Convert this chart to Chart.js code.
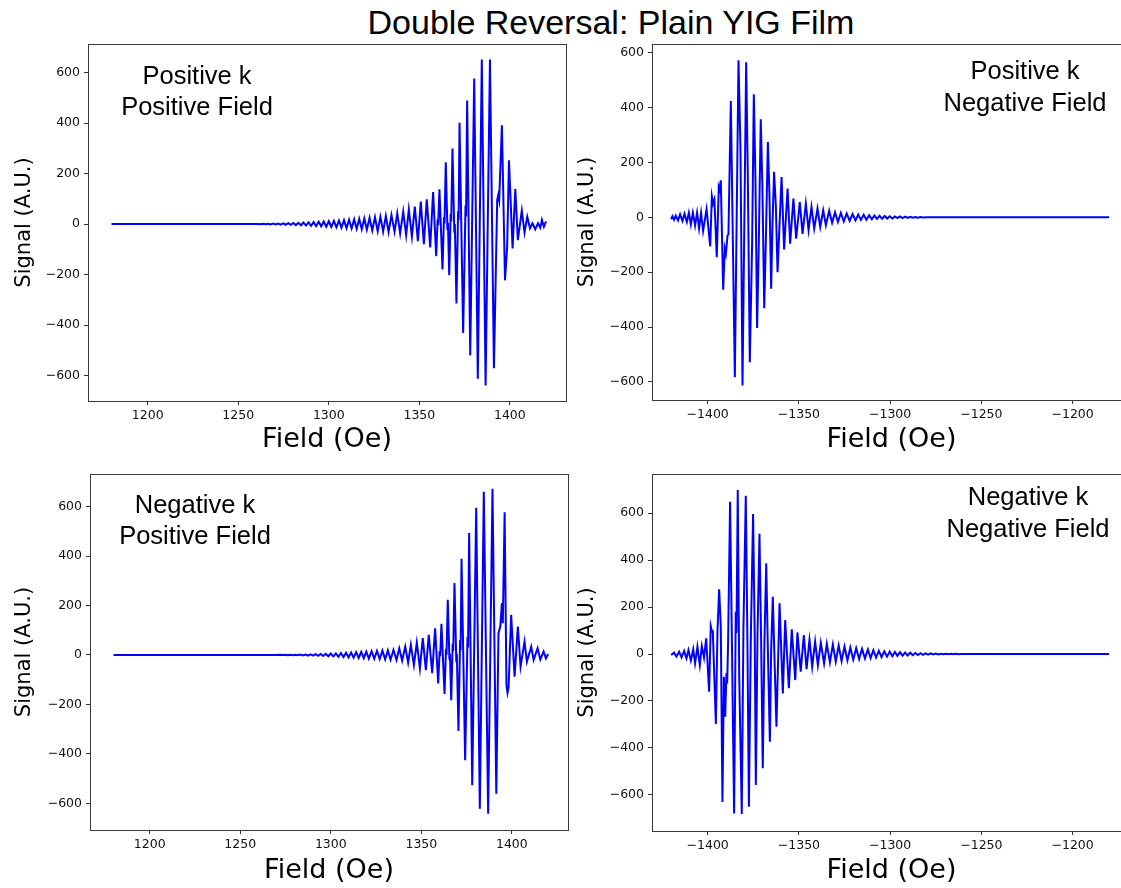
<!DOCTYPE html>
<html>
<head>
<meta charset="utf-8">
<script src="https://cdn.jsdelivr.net/npm/chart.js@4.4.0/dist/chart.umd.min.js"></script>
<style>
  html, body { margin: 0; padding: 0; background: #fff; overflow: hidden; }
  body { width: 1121px; height: 888px; position: relative; }
  #titulo { position: absolute; left: 0; width: 1222px; top: 2px; text-align: center;
            font-family: 'Liberation Sans', Arial, sans-serif; font-size: 34px; line-height: 40px; color: #000; }
  canvas { position: absolute; }
</style>
</head>
<body>
<div id="titulo">Double Reversal: Plain YIG Film</div>
<canvas id="panelTL" width="600" height="428" style="left:0px;top:32px"></canvas>
<canvas id="panelTR" width="600" height="428" style="left:566px;top:32px"></canvas>
<canvas id="panelBL" width="600" height="426" style="left:0px;top:462px"></canvas>
<canvas id="panelBR" width="600" height="426" style="left:566px;top:462px"></canvas>
<script>
// Ticks
const yTicks = [-600, -400, -200, 0, 200, 400, 600];
const xTicksPos = [1200, 1250, 1300, 1350, 1400];
const xTicksNeg = [-1400, -1350, -1300, -1250, -1200];

// Positive k, Positive Field
const tlField = [1180, 1258, 1260.8, 1262.2, 1263.6, 1265.0, 1266.4, 1267.8, 1269.2, 1270.6, 1272.0, 1273.4, 1274.8,
  1276.2, 1277.6, 1279.0, 1280.4, 1281.8, 1283.2, 1284.6, 1286.0, 1287.4, 1288.8, 1290.2, 1291.6, 1293.0, 1294.4,
  1295.8, 1297.2, 1298.6, 1300.0, 1301.4, 1302.8, 1304.2, 1305.6, 1307.0, 1308.4, 1309.8, 1311.2, 1312.6, 1314.0,
  1315.4, 1316.8, 1318.2, 1319.6, 1321.0, 1322.5, 1324.0, 1325.5, 1327.0, 1328.5, 1330.0, 1331.5, 1333.0,
  1334.6, 1336.3, 1337.8, 1339.4, 1341.1, 1342.7, 1344.2, 1345.9, 1347.5, 1349.2, 1350.8, 1352.5, 1354.1, 1356.0,
  1357.6, 1359.3, 1360.1, 1360.4, 1361.1, 1362.8, 1363.6, 1363.9, 1364.6, 1365.5, 1365.8, 1366.5, 1367.3, 1367.6,
  1368.3, 1369.3, 1369.6, 1370.5, 1371.4, 1371.7, 1372.2, 1374.2, 1375.5, 1375.8, 1376.4, 1378.1, 1380.3, 1382.3,
  1384.5, 1386.6, 1389.0, 1391.2, 1393.0, 1393.6, 1394.1, 1395.6, 1397.3, 1398.5, 1399.5, 1401.5, 1403.0, 1404.4,
  1406.6, 1408.1, 1409.6, 1411.1, 1412.5, 1414.0, 1415.5, 1416.8, 1417.7, 1418.8, 1420.0];
const tlSignal = [0, 0, 0.5, -0.7, 0.9, -1, 1.2, -1.4, 1.6, -1.8, 2, -2.3, 2.6,
  -2.9, 3.2, -3.5, 3.9, -4.3, 4.7, -5.1, 5.6, -6, 6.5, -7, 7.5, -8, 8.6,
  -9.2, 9.8, -10.4, 11, -11.7, 12.4, -13, 13.7, -14.4, 15.2, -16, 16.8, -17.6, 18.4,
  -19.2, 20, -21, 22, -23, 24, -25.5, 27, -28, 29, -30, 32, -32,
  36, -30, 42, -37, 49, -44, 58, -50, 69, -68, 89, -80, 98, -93,
  127, -127, 18, -4, 138, -180, 28, 2, 245, -20, 5, -203, 40, 10,
  299, -30, 0, -315, 50, 15, 401, -432, 73, 30, 489, -521, 576, -613,
  652, -640, 652, -571, 95, 115, 95, 391, -223, -90, 252, -97, 139, -64,
  53, -34, 29, -17, 3, -21, 3, -15, 16, -11, 10];

// Positive k, Negative Field
const trField = [-1420, -1419.3, -1418.4, -1417.5, -1416.2, -1415.1, -1413.8, -1412.7, -1411.4, -1410.3, -1409.2,
  -1408.1, -1406.9, -1405.8, -1404.7, -1403.6, -1402.5, -1400.6, -1398.6, -1397.7, -1397.0, -1396.3, -1395.0,
  -1393.9, -1393.4, -1392.8, -1391.5, -1390.6, -1390.0, -1389.1, -1388.6, -1387.3, -1385.1, -1383.1, -1382.0,
  -1380.9, -1378.9, -1378.0, -1376.9, -1375.6, -1374.7, -1373.8, -1372.9, -1372.0, -1370.9, -1370.0, -1369.0,
  -1368.1, -1367.0, -1366.1, -1365.2, -1364.5, -1363.6, -1362.6, -1361.7, -1359.5, -1358.1, -1356.2, -1354.8,
  -1353.0, -1351.5, -1349.5, -1348.0, -1346.2, -1344.7, -1343.1, -1341.6, -1339.8, -1338.3, -1336.7, -1335.2,
  -1333.4, -1331.8, -1330.2, -1328.6, -1327.0, -1325.4, -1323.8, -1322.2, -1320.6, -1319.0, -1317.5, -1316.0,
  -1314.5, -1313.0, -1311.5, -1310.0, -1308.6, -1307.2, -1305.8, -1304.4, -1303.0, -1301.6, -1300.2, -1298.8,
  -1297.4, -1296.0, -1294.6, -1293.2, -1291.8, -1290.4, -1289.0, -1287.6, -1286.2, -1284.8, -1283.4, -1282.0,
  -1280.0, -1180];
const trSignal = [-7, 4, -9, 6, -11, 11, -13, 13, -17, 17, -26,
  17, -30, 17, -41, 16, -50, 30, -106, 77, 50, 65, -145,
  111, 100, 135, -264, -114, -133, -66, -62, 424, -583, 573, 245,
  -613, 565, 159, -528, -84, 449, 135, -403, -108, 358, 111, -331,
  -84, 275, 74, -260, -35, 166, 38, -200, 147, -117, 105, -96,
  68, -78, 56, -60, 50, -46, 38, -41, 32, -35, 26, -29,
  24, -20, 18, -17, 16, -15, 14, -13, 12, -11, 10, -9.5,
  9, -8.5, 8, -7, 6.5, -6, 5.5, -5, 5, -4.5, 4, -4,
  3.5, -3, 3, -2.5, 2.5, -2, 2, -1.5, 1.5, -1, 1, -0.5,
  0, 0];

// Negative k, Positive Field
const blField = [1180, 1270, 1272.0, 1273.4, 1274.8, 1276.2, 1277.6, 1279.0, 1280.4, 1281.8, 1283.2, 1284.6,
  1286.0, 1287.4, 1288.8, 1290.2, 1291.6, 1293.0, 1294.4, 1295.8, 1297.2, 1298.6, 1300.0, 1301.4, 1302.8,
  1304.2, 1305.6, 1307.0, 1308.4, 1309.8, 1311.2, 1312.6, 1314.0, 1315.4, 1316.8, 1318.2, 1319.6, 1321.0,
  1322.5, 1324.0, 1325.5, 1327.0, 1328.5, 1330.0, 1331.5, 1333.0,
  1334.6, 1336.3, 1337.8, 1339.4, 1341.1, 1342.7, 1344.2, 1345.9, 1347.5, 1349.2, 1350.8, 1352.5, 1354.1,
  1356.0, 1357.6, 1359.3, 1360.1, 1360.4, 1361.1, 1362.8, 1363.6, 1363.9, 1364.6, 1365.5, 1365.8, 1366.5,
  1367.3, 1367.6, 1368.3, 1369.3, 1369.6, 1370.5, 1371.4, 1371.7, 1372.2, 1374.2, 1375.5, 1375.8, 1376.4,
  1378.1, 1380.3, 1382.3, 1384.5, 1386.9, 1389.3, 1391.4, 1392.6, 1393.6, 1394.5, 1395.0, 1396.0, 1397.0,
  1397.6, 1398.2, 1399.6, 1401.5, 1403.3, 1404.8, 1407.0, 1408.3, 1410.7, 1412.0, 1414.2, 1415.7, 1417.5,
  1418.8, 1420.0];
const blSignal = [0, 0, 0.5, -0.6, 0.7, -0.8, 0.9, -1, 1.2, -1.4, 1.6, -1.8,
  2, -2.3, 2.6, -2.9, 3.2, -3.6, 4, -4.4, 4.8, -5.2, 5.7, -6.2, 6.7,
  -7.2, 7.8, -8.4, 9, -9.6, 10.2, -10.8, 11.4, -12, 12.6, -13.2, 13.8, -14.4,
  15, -15.6, 16.2, -16.8, 17.4, -18, 18.6, -19.2,
  20, -20, 27, -23, 34, -31, 41, -41, 50, -54, 68, -61, 81,
  -74, 108, -115, 15, -5, 126, -158, 25, 0, 223, -15, 5, -183,
  45, 15, 291, -25, 5, -307, 60, 20, 389, -426, 74, 30, 493,
  -527, 595, -622, 660, -642, 672, -561, 88, 115, 210, 128, 577, -120,
  -153, -130, 162, -88, 115, -47, 54, -27, 34, -20, 27, -18, 14,
  -14, 4];

// Negative k, Negative Field
const brField = [-1420, -1418.4, -1417.1, -1415.6, -1414.3, -1412.9, -1411.6, -1410.5, -1409.2, -1407.9, -1406.9,
  -1405.6, -1404.3, -1403.2, -1402.0, -1400.8, -1399.2, -1398.3, -1397.6, -1397.2, -1395.5, -1394.6, -1393.7,
  -1392.8, -1391.9, -1391.1, -1390.4, -1389.7, -1389.3, -1388.8, -1387.7, -1385.5, -1384.6, -1384.2, -1383.5,
  -1382.7, -1381.3, -1380.4, -1379.1, -1378.2, -1377.4, -1376.3, -1375.1, -1374.2, -1373.6, -1372.7, -1371.6,
  -1370.7, -1369.8, -1368.9, -1367.9, -1367.0, -1365.9, -1365.2, -1364.3, -1363.4, -1362.3, -1360.6, -1358.8,
  -1357.5, -1355.5, -1353.9, -1352.0, -1350.8, -1349.0, -1347.3, -1345.8, -1344.2, -1342.7, -1341.1, -1339.6,
  -1338.0, -1336.2, -1334.7, -1333.0, -1331.4, -1329.8, -1328.2, -1326.6, -1325.0, -1323.4, -1321.8, -1320.2,
  -1318.6, -1317.0, -1315.4, -1313.8, -1312.2, -1310.7, -1309.2, -1307.7, -1306.2, -1304.7, -1303.2, -1301.7,
  -1300.2, -1298.8, -1297.4, -1296.0, -1294.6, -1293.2, -1291.8, -1290.4, -1289.0, -1287.6, -1286.2, -1284.8,
  -1283.4, -1282.0, -1280.6, -1279.2, -1277.8, -1276.4, -1275.0, -1273.6, -1272.2, -1270.8, -1269.4, -1268.0,
  -1266.6, -1265.2, -1263.8, -1262.4, -1261.0, -1259.6, -1258.0, -1180];
const brSignal = [-4, 6, -11, 10, -14, 13, -18, 17, -28, 20, -40,
  31, -47, 34, -15, 67, -161, 119, 95, 102, -298, 102, 276,
  117, -630, -97, -267, -82, -125, 45, 649, -679, 180, 90, 699,
  -97, -682, 109, 674, 45, -651, 88, 597, 74, -558, 74, 512,
  60, -487, 45, 387, 17, -374, 17, 244, -11, -310, 216, -168,
  145, -146, 105, -111, 92, -75, 81, -64, 60, -54, 53, -47,
  48, -40, 43, -36, 40, -33, 36, -30, 32, -27, 28, -24,
  25, -21, 22, -19, 19, -17, 16.5, -15, 14, -13, 12, -11,
  10.5, -9.5, 9, -8, 7.5, -7, 6.5, -6, 5.5, -5, 4.6, -4.2,
  3.8, -3.4, 3, -2.7, 2.4, -2.1, 1.9, -1.7, 1.5, -1.3, 1.1, -1,
  0.9, -0.8, 0.7, -0.6, 0.5, -0.4, 0, 0];

const fuenteTicks = { family: 'DejaVu Sans', size: 12.5 };
const signoMenos = v => String(v).replace('-', '\u2212');

// Texto dentro de cada panel
const notasPlugin = {
    id: 'notas',
    afterDraw(chart, args, opts) {
        const ctx = chart.ctx;
        ctx.save();
        ctx.font = '25.5px "Liberation Sans", Arial, sans-serif';
        ctx.fillStyle = '#000';
        ctx.textAlign = 'center';
        ctx.textBaseline = 'middle';
        opts.lineas.forEach((t, i) => ctx.fillText(t, opts.x, opts.y + i * opts.salto));
        ctx.restore();
    }
};

// Marco de los ejes
const marcoPlugin = {
    id: 'marco',
    afterDraw(chart) {
        const { ctx, chartArea: a } = chart;
        ctx.save();
        ctx.strokeStyle = '#3a3a3a';
        ctx.lineWidth = 1;
        ctx.strokeRect(Math.round(a.left) + 0.5, Math.round(a.top) + 0.5,
            Math.round(a.right - a.left), Math.round(a.bottom - a.top));
        ctx.restore();
    }
};

const crearPanel = (id, campo, senal, cfg) => {
    const ctx = document.getElementById(id);
    new Chart(ctx, {
        type: 'line',
        data: {
            datasets: [{
                data: campo.map((x, i) => ({ x: x, y: senal[i] })),
                borderColor: '#0000ff',
                borderWidth: 2,
                pointRadius: 0,
                tension: 0,
                fill: false
            }]
        },
        options: {
            responsive: false,
            animation: false,
            events: [],
            layout: { padding: { top: cfg.arriba, right: cfg.derecha, left: 0, bottom: 0 } },
            plugins: {
                legend: { display: false },
                tooltip: { enabled: false },
                notas: cfg.notas
            },
            scales: {
                x: {
                    type: 'linear',
                    min: cfg.xMin,
                    max: cfg.xMax,
                    afterBuildTicks: s => { s.ticks = cfg.xTicks.map(v => ({ value: v })); },
                    afterFit: s => { s.height = cfg.altoX; },
                    border: { display: false },
                    grid: { drawOnChartArea: false, drawTicks: true, tickLength: 4, tickColor: '#333', tickWidth: 1 },
                    ticks: { autoSkip: false, maxRotation: 0, padding: 3.5, color: '#111', font: fuenteTicks, callback: signoMenos },
                    title: { display: true, text: 'Field (Oe)', color: '#000', font: { family: 'DejaVu Sans', size: 27 }, padding: { top: 0, bottom: cfg.padTituloX } }
                },
                y: {
                    min: cfg.yMin,
                    max: cfg.yMax,
                    afterBuildTicks: s => { s.ticks = yTicks.map(v => ({ value: v })); },
                    afterFit: s => { s.width = cfg.anchoY; },
                    border: { display: false },
                    grid: { drawOnChartArea: false, drawTicks: true, tickLength: 4, tickColor: '#333', tickWidth: 1 },
                    ticks: { autoSkip: false, padding: 4, color: '#111', font: fuenteTicks, callback: signoMenos },
                    title: { display: true, text: 'Signal (A.U.)', color: '#000', font: { family: 'DejaVu Sans', size: 21 }, padding: { top: cfg.padTituloY, bottom: 0 } }
                }
            }
        },
        plugins: [notasPlugin, marcoPlugin]
    });
};

const inicializarGraficos = () => {
    crearPanel('panelTL', tlField, tlSignal, {
        xMin: 1167, xMax: 1431, yMin: -701, yMax: 713, xTicks: xTicksPos,
        arriba: 12, derecha: 34, anchoY: 88, altoX: 59, padTituloX: 3.8, padTituloY: 12,
        notas: { lineas: ['Positive k', 'Positive Field'], x: 197, y: 45, salto: 31 }
    });
    crearPanel('panelTR', trField, trSignal, {
        xMin: -1430.5, xMax: -1168, yMin: -666, yMax: 632, xTicks: xTicksNeg,
        arriba: 12, derecha: 35, anchoY: 86, altoX: 60, padTituloX: 3.8, padTituloY: 9.4,
        notas: { lineas: ['Positive k', 'Negative Field'], x: 459, y: 40, salto: 32 }
    });
    crearPanel('panelBL', blField, blSignal, {
        xMin: 1167, xMax: 1431, yMin: -708, yMax: 732, xTicks: xTicksPos,
        arriba: 12, derecha: 32, anchoY: 90, altoX: 58, padTituloX: 0.5, padTituloY: 12.4,
        notas: { lineas: ['Negative k', 'Positive Field'], x: 195, y: 44, salto: 31 }
    });
    crearPanel('panelBR', brField, brSignal, {
        xMin: -1430.5, xMax: -1168, yMin: -754, yMax: 767, xTicks: xTicksNeg,
        arriba: 12, derecha: 35, anchoY: 86, altoX: 57, padTituloX: 0.5, padTituloY: 9.4,
        notas: { lineas: ['Negative k', 'Negative Field'], x: 462, y: 36, salto: 32 }
    });
};

if (document.readyState === 'loading') {
    document.addEventListener('DOMContentLoaded', inicializarGraficos);
} else {
    inicializarGraficos();
}
</script>
</body>
</html>
